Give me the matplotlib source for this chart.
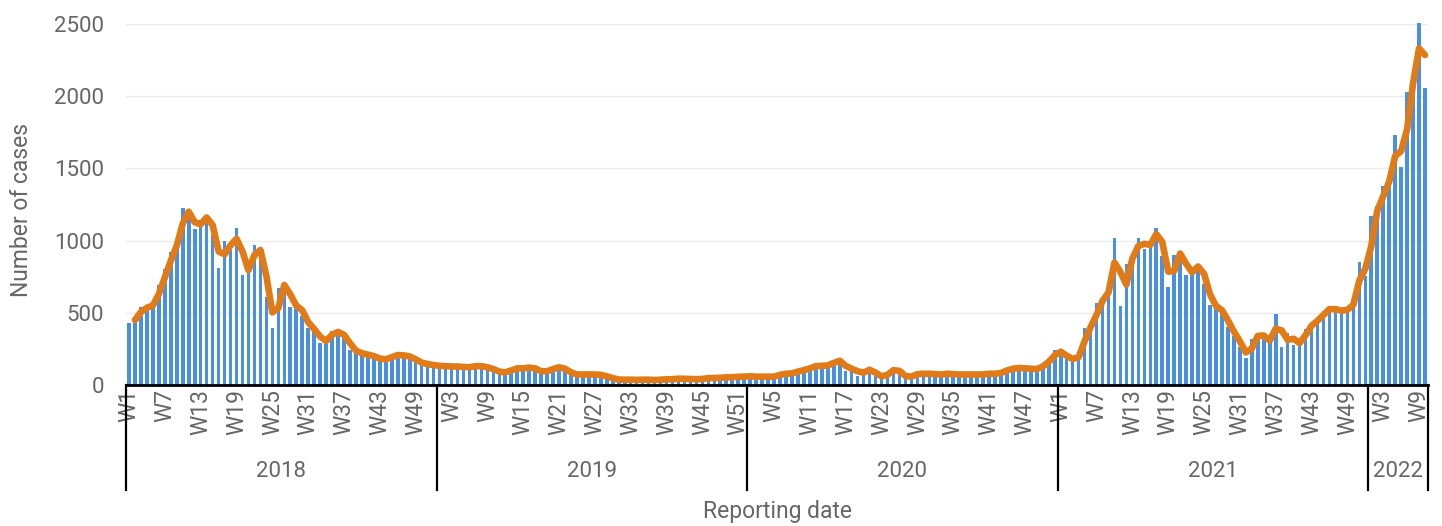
import numpy as np
import pandas as pd
import matplotlib
matplotlib.use("Agg")
import matplotlib.pyplot as plt
import matplotlib.transforms as mtransforms

plt.rcParams["font.family"] = ["Roboto", "DejaVu Sans"]

# weekly case counts per reporting year
years = ["2018", "2019", "2020", "2021", "2022"]
cases_2018 = [430, 470, 540, 530, 570, 690, 800, 920, 1010, 1225,
              1175, 1080, 1145, 1175, 1040, 810, 1000, 935, 1090, 760,
              830, 970, 900, 610, 395, 670, 715, 540, 560, 475,
              395, 380, 290, 320, 375, 360, 335, 245, 230, 210,
              210, 190, 175, 180, 205, 210, 200, 195, 160, 150,
              140, 135]
cases_2019 = [130, 130, 125, 130, 120, 125, 135, 125, 120, 100,
              85, 90, 110, 120, 110, 130, 100, 90, 100, 120,
              125, 100, 75, 70, 75, 70, 75, 65, 55, 40,
              35, 38, 35, 35, 38, 35, 33, 40, 38, 42,
              45, 40, 42, 38, 45, 50, 45, 55, 50, 58,
              55, 60]
cases_2020 = [60, 55, 60, 55, 60, 80, 75, 85, 100, 105,
              125, 135, 130, 140, 165, 170, 95, 130, 60, 110,
              100, 70, 50, 90, 115, 80, 45, 70, 80, 75,
              80, 70, 75, 80, 70, 75, 70, 75, 70, 75,
              80, 75, 90, 110, 115, 120, 110, 115, 105, 150,
              170, 240]
cases_2021 = [220, 185, 175, 210, 395, 405, 565, 600, 680, 1015,
              550, 840, 910, 1015, 940, 1000, 1090, 890, 680, 900,
              920, 760, 800, 840, 700, 555, 540, 495, 400, 340,
              265, 185, 320, 360, 325, 290, 490, 265, 360, 280,
              300, 390, 430, 460, 510, 540, 510, 520, 520, 590,
              855, 755]
cases_2022 = [1170, 1240, 1375, 1440, 1730, 1510, 2030, 2150, 2510, 2060]

per_year = [cases_2018, cases_2019, cases_2020, cases_2021, cases_2022]
cases = np.concatenate(per_year)
week_no = np.concatenate([np.arange(1, len(v) + 1) for v in per_year])
x = np.arange(len(cases))
# 2 week moving average trendline
trend = pd.Series(cases).rolling(2).mean()

grey = "#666666"
fig = plt.figure(figsize=(14.42, 5.26), dpi=100)
ax = fig.add_axes([0.0874, 0.2681, 0.9029, 0.6863])

ax.bar(x, cases, width=0.6, color="#4a90e2", zorder=2, clip_on=False)
ax.plot(x, trend, color="#e07b18", lw=4.8, zorder=3, solid_capstyle="round",
        solid_joinstyle="round", clip_on=False)

ax.set_xlim(-0.5, len(cases) - 0.5)
ax.set_ylim(0, 2500)
ax.set_yticks(np.arange(0, 2501, 500))
ax.grid(axis="y", color="#ebebeb", lw=1, zorder=0)
ax.tick_params(axis="y", length=0, pad=16, labelsize=16, labelcolor=grey)

ticks = x[::6]
ax.set_xticks(ticks)
ax.set_xticklabels([f"W{w}" for w in week_no[::6]], rotation=90)
ax.tick_params(axis="x", length=0, pad=3, labelsize=16.5, labelcolor=grey)

for side in ["top", "right", "left"]:
    ax.spines[side].set_visible(False)
ax.spines["bottom"].set_color("black")
ax.spines["bottom"].set_linewidth(2)

# year groups under the week labels
trans = mtransforms.blended_transform_factory(ax.transData, ax.transAxes)
bounds = np.concatenate([[0], np.cumsum([len(v) for v in per_year])]) - 0.5
for b in bounds:
    ax.plot([b, b], [0, -0.291], transform=trans, color="black", lw=1.6,
            clip_on=False)
for i, yr in enumerate(years):
    ax.text((bounds[i] + bounds[i + 1]) / 2, -0.24, yr, transform=trans,
            ha="center", va="center", fontsize=16, color=grey)

fig.text(0.539, 0.028, "Reporting date", ha="center", va="center",
         fontsize=16.5, color=grey)
fig.text(0.015, 0.60, "Number of cases", rotation=90, ha="center",
         va="center", fontsize=16.5, color=grey)

fig.savefig("out.png", dpi=100)
